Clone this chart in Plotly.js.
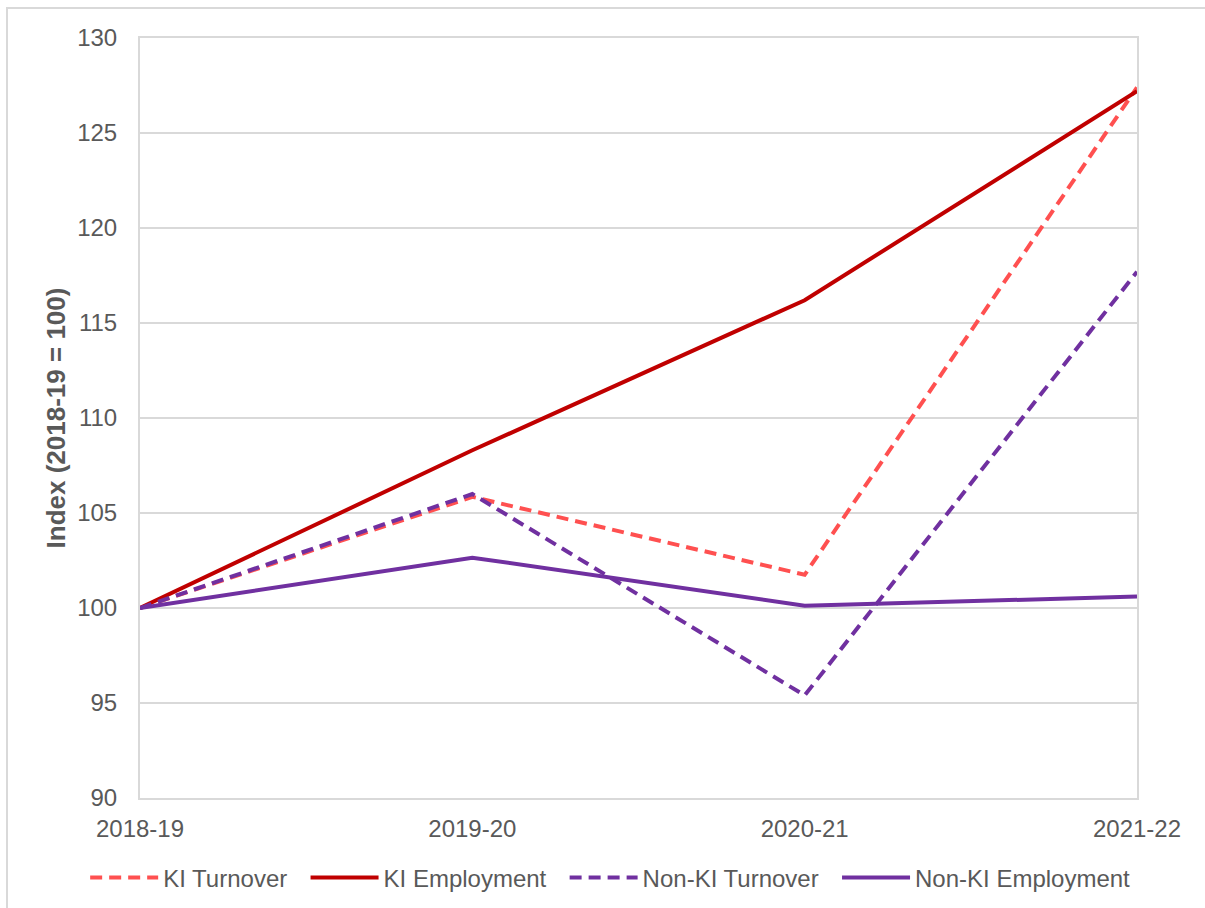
<!DOCTYPE html>
<html>
<head>
<meta charset="utf-8">
<script src="https://cdn.plot.ly/plotly-3.0.1.min.js"></script>
<style>
  html, body { margin: 0; padding: 0; background: #ffffff; overflow: hidden; }
  #frame { position: absolute; left: 6px; top: 7px; width: 1300px; height: 1000px;
           border: 2px solid #d9d9d9; box-sizing: border-box; }
  #chart { position: absolute; left: 0; top: 0; width: 1205px; height: 908px; }
</style>
</head>
<body>
<div id="frame"></div>
<div id="chart"></div>
<script>
// Financial years on the category axis
const years = ['2018-19', '2019-20', '2020-21', '2021-22'];

// Index values, 2018-19 = 100
const kiTurnover = [100, 105.85, 101.75, 127.4];
const kiEmployment = [100, 108.3, 116.2, 127.2];
const nonKiTurnover = [100, 106.0, 95.4, 117.7];
const nonKiEmployment = [100, 102.65, 100.12, 100.6];

// Series names shown in the legend
const seriesNames = ['KI Turnover', 'KI Employment', 'Non-KI Turnover', 'Non-KI Employment'];

// Y axis tick values
const yTicks = [90, 95, 100, 105, 110, 115, 120, 125, 130];

const textColor = '#595959';
const gridColor = '#d9d9d9';
const dashStyle = '12px,7px';
// a little extra room after each legend entry except the last
const pad = '\u00a0\u00a0';

const traces = [
  { name: seriesNames[0] + pad, y: kiTurnover,
    line: { color: '#ff5050', width: 4, dash: dashStyle } },
  { name: seriesNames[1] + pad, y: kiEmployment,
    line: { color: '#c00000', width: 4 } },
  { name: seriesNames[2] + pad, y: nonKiTurnover,
    line: { color: '#7030a0', width: 4, dash: dashStyle } },
  { name: seriesNames[3], y: nonKiEmployment,
    line: { color: '#7030a0', width: 4 } }
].map(t => Object.assign({ type: 'scatter', mode: 'lines', x: years, hoverinfo: 'skip' }, t));

const layout = {
  width: 1205,
  height: 908,
  margin: { l: 140, r: 68, t: 38, b: 110, autoexpand: false },
  paper_bgcolor: 'rgba(0,0,0,0)',
  plot_bgcolor: '#ffffff',
  font: { family: '"Liberation Sans", Arial, sans-serif', size: 24, color: textColor },
  showlegend: true,
  xaxis: {
    type: 'category',
    range: [0, 3],
    showgrid: false,
    showline: true,
    mirror: true,
    linecolor: gridColor,
    linewidth: 2,
    ticks: '',
    ticklabelstandoff: 8,
    tickfont: { size: 24, color: textColor },
    zeroline: false,
    fixedrange: true
  },
  yaxis: {
    range: [90, 130],
    tickvals: yTicks,
    ticktext: yTicks.map(String),
    showgrid: true,
    gridcolor: gridColor,
    gridwidth: 2,
    showline: true,
    mirror: true,
    linecolor: gridColor,
    linewidth: 2,
    ticks: '',
    ticklabelstandoff: 16,
    tickfont: { size: 24, color: textColor },
    zeroline: false,
    fixedrange: true,
    title: {
      text: '<b>Index (2018-19 = 100)</b>',
      font: { size: 26, color: textColor },
      standoff: 4
    }
  },
  legend: {
    orientation: 'h',
    x: -0.055,
    xanchor: 'left',
    y: -0.105,
    yanchor: 'middle',
    itemwidth: 68,
    font: { size: 24, color: textColor },
    bgcolor: 'rgba(0,0,0,0)',
    itemclick: false,
    itemdoubleclick: false
  }
};

Plotly.newPlot('chart', traces, layout, { displayModeBar: false, staticPlot: true });
</script>
</body>
</html>
